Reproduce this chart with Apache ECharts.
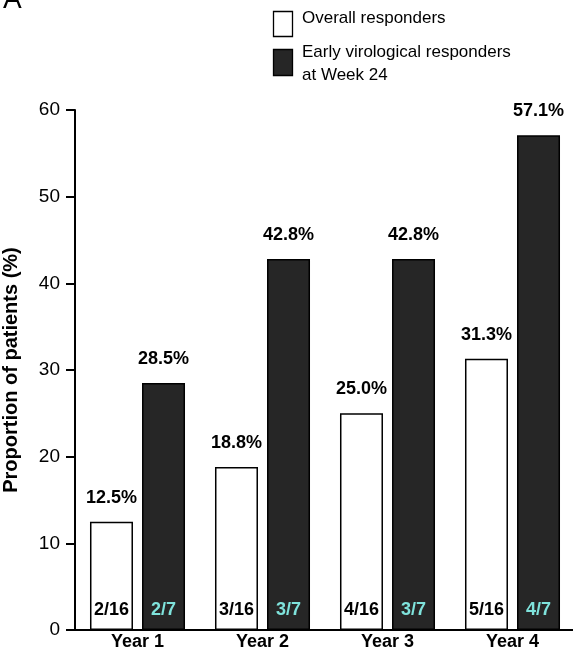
<!DOCTYPE html>
<html>
<head>
<meta charset="utf-8">
<script src="https://cdn.jsdelivr.net/npm/echarts@6/dist/echarts.min.js"></script>
<style>
html,body{margin:0;padding:0;background:#fff;}
#main{width:573px;height:651px;}
</style>
</head>
<body>
<div id="main"></div>
<script>
const categories = ['Year 1', 'Year 2', 'Year 3', 'Year 4'];
const overallValues = [12.5, 18.8, 25.0, 31.3];
const earlyValues = [28.5, 42.8, 42.8, 57.1];
const overallFractions = ['2/16', '3/16', '4/16', '5/16'];
const earlyFractions = ['2/7', '3/7', '3/7', '4/7'];
const yTicks = [0, 10, 20, 30, 40, 50, 60];

const FONT = '"Liberation Sans", Arial, Helvetica, sans-serif';
const chart = echarts.init(document.getElementById('main'));

const topLabel = {
  show: true, position: 'top', distance: 15,
  formatter: p => p.value.toFixed(1) + '%',
  fontFamily: FONT, fontWeight: 'bold', fontSize: 18, color: '#000'
};

chart.setOption({
  animation: false,
  backgroundColor: '#fff',
  grid: { left: 75, right: -2, top: 110, bottom: 21, containLabel: false, outerBoundsMode: 'none' },
  xAxis: [
    {
      type: 'category',
      data: categories,
      axisLine: { lineStyle: { color: '#000', width: 2 } },
      axisTick: { show: false },
      axisLabel: { fontFamily: FONT, fontWeight: 'bold', fontSize: 18, color: '#000', margin: 3 }
    },
    {
      type: 'category',
      data: categories,
      show: false
    }
  ],
  yAxis: {
    type: 'value',
    min: yTicks[0], max: yTicks[yTicks.length - 1], interval: 10,
    name: 'Proportion of patients (%)',
    nameLocation: 'middle', nameGap: 54,
    nameTextStyle: { fontFamily: FONT, fontWeight: 'bold', fontSize: 20, color: '#000' },
    axisLine: { show: true, lineStyle: { color: '#000', width: 2 } },
    axisTick: { show: true, length: 9, lineStyle: { color: '#000', width: 2 } },
    axisLabel: { fontFamily: FONT, fontSize: 19, color: '#000', margin: 15 },
    splitLine: { show: false }
  },
  series: [
    {
      name: 'Overall responders',
      type: 'bar', barWidth: 43, barGap: '21%',
      data: overallValues,
      itemStyle: { color: '#fff', borderColor: '#000', borderWidth: 1.5 },
      label: topLabel
    },
    {
      name: 'Early virological responders at Week 24',
      type: 'bar', barWidth: 43, barGap: '21%',
      data: earlyValues,
      itemStyle: { color: '#262626', borderColor: '#000', borderWidth: 1.5 },
      label: topLabel
    },
    {
      name: 'Overall responders (n/N)',
      type: 'bar', xAxisIndex: 1, barWidth: 43, barGap: '21%',
      data: overallValues,
      silent: true,
      itemStyle: { color: 'rgba(0,0,0,0)', borderWidth: 0 },
      label: {
        show: true, position: 'insideBottom', distance: 11,
        formatter: p => overallFractions[p.dataIndex],
        fontFamily: FONT, fontWeight: 'bold', fontSize: 18, color: '#000'
      },
      z: 5
    },
    {
      name: 'Early responders (n/N)',
      type: 'bar', xAxisIndex: 1, barWidth: 43, barGap: '21%',
      data: earlyValues,
      silent: true,
      itemStyle: { color: 'rgba(0,0,0,0)', borderWidth: 0 },
      label: {
        show: true, position: 'insideBottom', distance: 11,
        formatter: p => earlyFractions[p.dataIndex],
        fontFamily: FONT, fontWeight: 'bold', fontSize: 18, color: '#7fe3dc'
      },
      z: 5
    }
  ],
  graphic: [
    { type: 'text', left: 3, top: -14, style: { text: 'A', font: '28px ' + FONT, fill: '#000' } },
    { type: 'rect', shape: { x: 273.5, y: 11.5, width: 19, height: 25 }, style: { fill: '#fff', stroke: '#000', lineWidth: 1.3 } },
    { type: 'text', left: 302, top: 10, style: { text: 'Overall responders', font: '17px ' + FONT, fill: '#000' } },
    { type: 'rect', shape: { x: 273.5, y: 49.5, width: 19, height: 26 }, style: { fill: '#262626', stroke: '#000', lineWidth: 1.3 } },
    { type: 'text', left: 302, top: 41, style: { text: 'Early virological responders\nat Week 24', font: '17px ' + FONT, lineHeight: 23, fill: '#000' } }
  ]
});
</script>
</body>
</html>
